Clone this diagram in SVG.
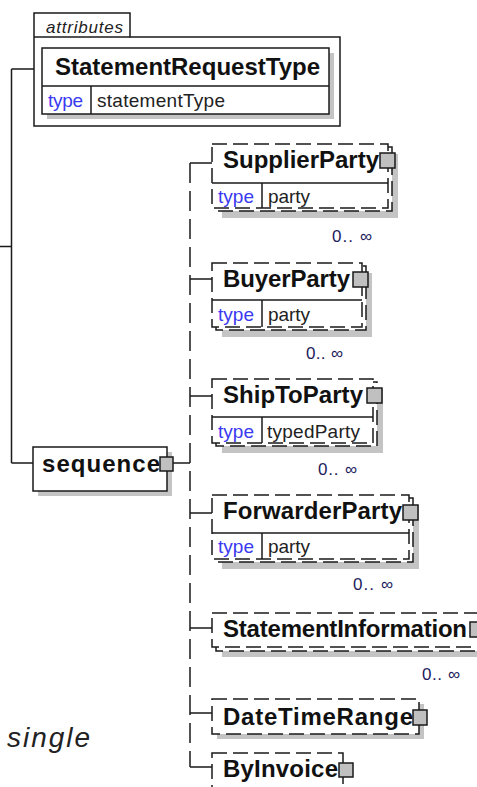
<svg xmlns="http://www.w3.org/2000/svg" width="477" height="787" viewBox="0 0 477 787">
<style>
.ln{stroke:#1a1a1a;stroke-width:1.5;fill:none}
.dash{stroke-dasharray:15 6}
.vdash{stroke-dasharray:20 8}
.box{fill:#fff;stroke:#1a1a1a;stroke-width:1.5}
.shadow{fill:#c4c4c4}
.sq{fill:#c0c0c0;stroke:#1a1a1a;stroke-width:1.5}
text{font-family:"Liberation Sans",Arial,sans-serif}
.nm{font-weight:bold;font-size:24px;fill:#111}
.ty{font-size:19px;fill:#3a3af0}
.tv{font-size:19px;fill:#222}
.occ{font-size:17px;fill:#1c1c5c}
.it{font-style:italic;fill:#222}
</style>
<rect width="477" height="787" fill="#fff"/>
<g id="connectors">
<path class="ln" d="M0,246.5 H11.5 M11.5,69 V463 M11.5,69 H34 M11.5,463 H33"/>
<path class="ln" d="M173,463 H190"/>
<path class="ln vdash" d="M190,163 V767"/>
<path class="ln" d="M190,163 H212 M190,279 H212 M190,396 H212 M190,513 H212 M190,628 H212 M190,713 H212 M190,767 H212"/>
</g>
<g id="attributes">
<path class="box" d="M34,37 V126 H340 V37 H130 V13 H34 Z"/>
<line class="ln" x1="34" y1="37" x2="130" y2="37"/>
<text class="it" x="46" y="33" font-size="17" textLength="77">attributes</text>
<rect class="shadow" x="47" y="53" width="287" height="66"/>
<rect class="box" x="42" y="48" width="287" height="66"/>
<line class="ln" x1="42" y1="86" x2="329" y2="86"/>
<line class="ln" x1="91" y1="86" x2="91" y2="114"/>
<text class="nm" x="55" y="75" textLength="265">StatementRequestType</text>
<text class="ty" x="48" y="107" textLength="35">type</text>
<text class="tv" x="97" y="107" textLength="128">statementType</text>
</g>
<g id="sequence">
<rect class="shadow" x="38" y="452" width="134" height="44"/>
<rect class="box" x="33" y="447" width="134" height="44"/>
<text class="nm" x="42" y="472" textLength="118">sequence</text>
<rect class="sq" x="160" y="457" width="13" height="14"/>
</g>
<g id="SupplierParty">
<rect class="shadow" x="222" y="154" width="176" height="64"/>
<rect class="box dash" x="216" y="147" width="176" height="64"/>
<rect class="box dash" x="212" y="144" width="176" height="64"/>
<line class="ln" x1="212" y1="183" x2="388" y2="183"/>
<line class="ln" x1="262" y1="183" x2="262" y2="208"/>
<text class="nm" x="223" y="168" textLength="156">SupplierParty</text>
<rect class="sq" x="380" y="153" width="15" height="15"/>
<text class="ty" x="218" y="203" textLength="36">type</text>
<text class="tv" x="268" y="203" textLength="42">party</text>
<text class="occ" x="332" y="242" textLength="40">0.. ∞</text>
</g>
<g id="BuyerParty">
<rect class="shadow" x="222" y="273" width="150" height="64"/>
<rect class="box dash" x="216" y="266" width="150" height="64"/>
<rect class="box dash" x="212" y="263" width="150" height="64"/>
<line class="ln" x1="212" y1="300" x2="362" y2="300"/>
<line class="ln" x1="262" y1="300" x2="262" y2="327"/>
<text class="nm" x="223" y="287" textLength="127">BuyerParty</text>
<rect class="sq" x="353" y="272" width="15" height="15"/>
<text class="ty" x="218" y="321" textLength="36">type</text>
<text class="tv" x="268" y="321" textLength="42">party</text>
<text class="occ" x="306" y="359" textLength="37">0.. ∞</text>
</g>
<g id="ShipToParty">
<rect class="shadow" x="222" y="389" width="161" height="64"/>
<rect class="box dash" x="216" y="382" width="161" height="64"/>
<rect class="box dash" x="212" y="379" width="161" height="64"/>
<line class="ln" x1="212" y1="417" x2="373" y2="417"/>
<line class="ln" x1="262" y1="417" x2="262" y2="443"/>
<text class="nm" x="223" y="403" textLength="140">ShipToParty</text>
<rect class="sq" x="367" y="388" width="15" height="15"/>
<text class="ty" x="218" y="438" textLength="36">type</text>
<text class="tv" x="267" y="438" textLength="93">typedParty</text>
<text class="occ" x="318" y="475" textLength="39">0.. ∞</text>
</g>
<g id="ForwarderParty">
<rect class="shadow" x="222" y="505" width="197" height="64"/>
<rect class="box dash" x="216" y="498" width="197" height="64"/>
<rect class="box dash" x="212" y="495" width="197" height="64"/>
<line class="ln" x1="212" y1="533" x2="409" y2="533"/>
<line class="ln" x1="262" y1="533" x2="262" y2="559"/>
<text class="nm" x="223" y="519" textLength="179">ForwarderParty</text>
<rect class="sq" x="403" y="505" width="15" height="15"/>
<text class="ty" x="218" y="553" textLength="36">type</text>
<text class="tv" x="268" y="553" textLength="42">party</text>
<text class="occ" x="353" y="590" textLength="40">0.. ∞</text>
</g>
<g id="StatementInformation">
<rect class="shadow" x="222" y="623" width="270" height="34"/>
<rect class="box dash" x="216" y="617" width="270" height="34"/>
<rect class="box dash" x="212" y="613" width="270" height="34"/>
<text class="nm" x="223" y="637" textLength="244">StatementInformation</text>
<rect class="sq" x="470" y="622" width="15" height="15"/>
<text class="occ" x="422" y="680" textLength="38">0.. ∞</text>
</g>
<g id="DateTimeRange">
<rect class="shadow" x="217" y="704" width="207" height="35"/>
<rect class="box dash" x="212" y="699" width="207" height="35"/>
<text class="nm" x="223" y="725" textLength="190">DateTimeRange</text>
<rect class="sq" x="413" y="710" width="14" height="15"/>
</g>
<g id="ByInvoice">
<rect class="box dash" x="212" y="753" width="131" height="50"/>
<text class="nm" x="223" y="777" textLength="115">ByInvoice</text>
<rect class="sq" x="339" y="763" width="14" height="14"/>
</g>
<text class="it" x="7" y="747" font-size="28" textLength="83">single</text>
</svg>
